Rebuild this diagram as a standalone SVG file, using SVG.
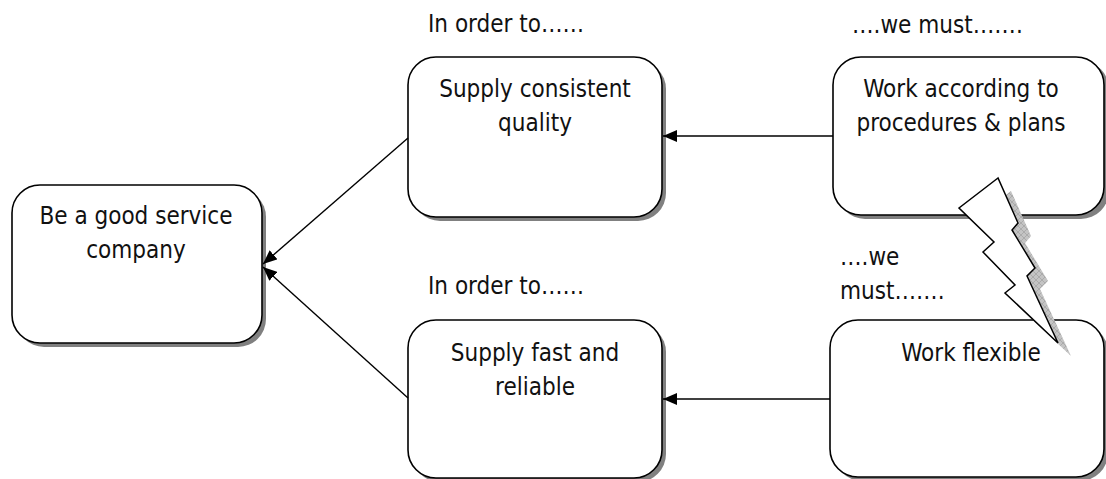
<svg xmlns="http://www.w3.org/2000/svg" width="1106" height="479" viewBox="0 0 1106 479">
<style>
.box{fill:#fff;stroke:#000;stroke-width:1.6}
.sh{fill:#808080}
.t{font-family:"DejaVu Sans Condensed","DejaVu Sans",sans-serif;font-size:24px;fill:#111}
.c{text-anchor:middle}
.ln{stroke:#000;stroke-width:1.4;fill:none}
</style>
<defs>
<marker id="ah" viewBox="0 0 14 12" refX="14" refY="6" markerWidth="14" markerHeight="12" markerUnits="userSpaceOnUse" orient="auto">
<path d="M0,0 L14,6 L0,12 z" fill="#000"/>
</marker>
<pattern id="hatch" width="6" height="6" patternUnits="userSpaceOnUse">
<rect width="6" height="6" fill="#c4c4c4"/>
<path d="M0,0 L6,6 M6,0 L0,6" stroke="#a0a0a0" stroke-width="0.7"/>
</pattern>
</defs>
<rect width="1106" height="479" fill="#fff"/>

<text class="t" x="428" y="32">In order to……</text>
<text class="t" x="428" y="294">In order to……</text>
<text class="t" x="852" y="33">….we must…….</text>
<text class="t" x="840" y="265">….we</text>
<text class="t" x="840" y="299">must…….</text>

<g id="n1">
<rect class="sh" x="16" y="189" width="250" height="158" rx="28"/>
<rect class="box" x="12" y="185" width="250" height="158" rx="28"/>
<text class="t c" x="136" y="224">Be a good service</text>
<text class="t c" x="136" y="258">company</text>
</g>
<g id="n2">
<rect class="sh" x="412" y="61" width="254" height="160" rx="28"/>
<rect class="box" x="408" y="57" width="254" height="160" rx="28"/>
<text class="t c" x="535" y="97">Supply consistent</text>
<text class="t c" x="535" y="131">quality</text>
</g>
<g id="n3">
<rect class="sh" x="837" y="61" width="272" height="158" rx="28"/>
<rect class="box" x="833" y="57" width="271" height="158" rx="28"/>
<text class="t c" x="961" y="97">Work according to</text>
<text class="t c" x="961" y="131">procedures &amp; plans</text>
</g>
<g id="n4">
<rect class="sh" x="412" y="324" width="254" height="158" rx="28"/>
<rect class="box" x="408" y="320" width="254" height="158" rx="28"/>
<text class="t c" x="535" y="361">Supply fast and</text>
<text class="t c" x="535" y="395">reliable</text>
</g>
<g id="n5">
<rect class="sh" x="834" y="324" width="274" height="157" rx="28"/>
<rect class="box" x="830" y="320" width="274" height="157" rx="28"/>
<text class="t c" x="971" y="361">Work flexible</text>
</g>

<g id="connectors">
<line class="ln" x1="408" y1="138" x2="263" y2="264" marker-end="url(#ah)"/>
<line class="ln" x1="408" y1="398" x2="263" y2="267" marker-end="url(#ah)"/>
<line class="ln" x1="833" y1="136" x2="663" y2="136" marker-end="url(#ah)"/>
<line class="ln" x1="830" y1="399" x2="663" y2="399" marker-end="url(#ah)"/>
</g>

<g id="bolt">
<polygon fill="url(#hatch)" transform="translate(13,13)" points="998,178 959,208 994,242 983,252 1015,285 1005,293 1058,343 1027,276 1035,268 1012,230 1018,223"/>
<polygon fill="#fff" stroke="#000" stroke-width="1.5" stroke-linejoin="miter" points="998,178 959,208 994,242 983,252 1015,285 1005,293 1058,343 1027,276 1035,268 1012,230 1018,223"/>
</g>
</svg>
